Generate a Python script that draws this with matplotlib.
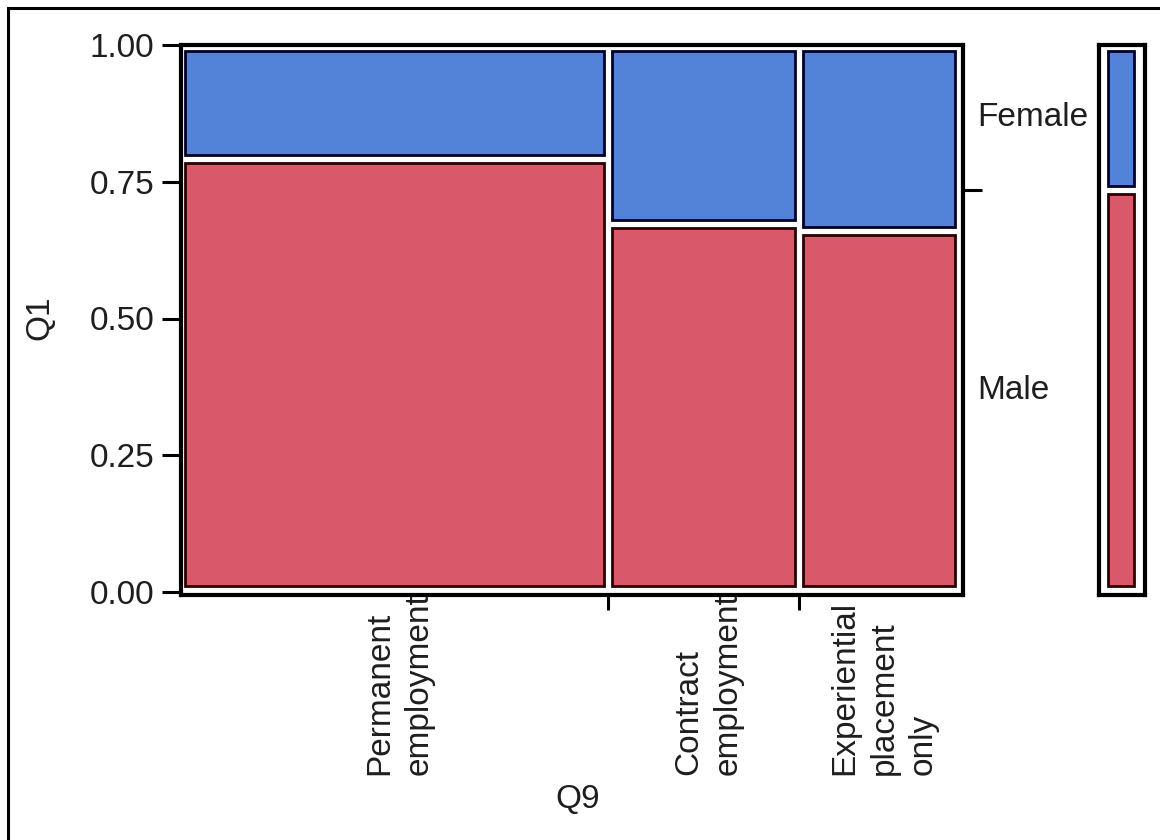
import matplotlib
matplotlib.use("Agg")
import matplotlib.pyplot as plt
from matplotlib.patches import Rectangle
from matplotlib.transforms import blended_transform_factory

# ---- data ----
categories = ["Permanent\nemployment", "Contract\nemployment", "Experiential\nplacement\nonly"]
col_share = [0.549, 0.2455, 0.2055]    # share of Q9 responses (column widths)
male_share = [0.792, 0.672, 0.660]     # share of Male within each Q9 category
groups = ["Male", "Female"]
y_ticks = [0.00, 0.25, 0.50, 0.75, 1.00]
y_ticklabels = ["0.00", "0.25", "0.50", "0.75", "1.00"]

MALE_C = "#d9596b"
FEMALE_C = "#5283d8"
MALE_E = "#2a0000"
FEMALE_E = "#00002a"
TXT = "#1e1e1e"

plt.rcParams["font.family"] = ["Liberation Sans", "DejaVu Sans"]
FS = 24

W, H = 1160, 840
fig = plt.figure(figsize=(W / 100, H / 100), dpi=100)

def fx(px):
    return px / W

def fy(py):
    return 1 - py / H

# main axes: frame x 181..963, y 45..595
ax = fig.add_axes([fx(181), fy(595), fx(963) - fx(181), fy(45) - fy(595)])
ax.set_xlim(0, 1 + 4 / 778)
ax.set_ylim(-3 / 547, 1.0)

gx = 4 / 778          # half gap between columns (data units)
gin = 4 / 547         # half gap between stacked cells
gout = 6 / 547        # inset at the top and bottom
left = 0.0
overall_male = 0.0
centers = []
for w, m in zip(col_share, male_share):
    ax.add_patch(Rectangle((left + gx, gout), w - 2 * gx, m - gout - gin,
                           facecolor=MALE_C, edgecolor=MALE_E, linewidth=2))
    ax.add_patch(Rectangle((left + gx, m + gin), w - 2 * gx, 1 - m - gin - gout,
                           facecolor=FEMALE_C, edgecolor=FEMALE_E, linewidth=2))
    centers.append(left + w / 2)
    overall_male += w * m
    left += w

for s in ax.spines.values():
    s.set_linewidth(3)
    s.set_color("black")

ax.set_yticks(y_ticks)
ax.set_yticklabels(y_ticklabels, fontsize=FS, color=TXT)
ax.tick_params(axis="y", length=14, width=2.2, pad=5)

bounds = [sum(col_share[:i + 1]) for i in range(len(col_share) - 1)]
ax.set_xticks(bounds)
ax.set_xticklabels([""] * len(bounds))
ax.tick_params(axis="x", length=11, width=2.2)

# category labels (rotated, aligned at their start)
tr = blended_transform_factory(ax.transData, fig.transFigure)
for c, lab in zip(centers, categories):
    ax.text(c + 5 / 778, fy(775), lab, rotation=90, ha="center", va="bottom",
            multialignment="left", fontsize=FS, linespacing=1.35,
            color=TXT, transform=tr, clip_on=False)

# right-side tick and group labels
ax2 = ax.twinx()
ax2.set_ylim(ax.get_ylim())
ax2.set_yticks([overall_male])
ax2.set_yticklabels([""])
ax2.tick_params(axis="y", length=14, width=2.2)
for s in ax2.spines.values():
    s.set_visible(False)
tr2 = blended_transform_factory(ax.transAxes, ax.transData)
ax.text(1 + 14 / 782, overall_male / 2, groups[0], fontsize=FS, ha="left",
        va="center", color=TXT, transform=tr2)
ax.text(1 + 14 / 782, (1 + overall_male) / 2, groups[1], fontsize=FS, ha="left",
        va="center", color=TXT, transform=tr2)

# axis titles
fig.text(fx(40), fy(318), "Q1", rotation=90, ha="center", va="center",
         fontsize=FS, color=TXT)
fig.text(fx(578), fy(800), "Q9", ha="center", va="center",
         fontsize=FS, color=TXT)

# overall (marginal) bar on the right
axl = fig.add_axes([fx(1099), fy(595), fx(1145) - fx(1099), fy(45) - fy(595)])
axl.set_xlim(0, 1)
axl.set_ylim(ax.get_ylim())
axl.add_patch(Rectangle((0.2, gout), 0.55, overall_male - gout - gin,
                        facecolor=MALE_C, edgecolor=MALE_E, linewidth=2))
axl.add_patch(Rectangle((0.2, overall_male + gin), 0.55, 1 - overall_male - gin - gout,
                        facecolor=FEMALE_C, edgecolor=FEMALE_E, linewidth=2))
axl.set_xticks([])
axl.set_yticks([])
for s in axl.spines.values():
    s.set_linewidth(3)

# outer figure border (right/bottom edges fall outside the image)
fig.patches.append(Rectangle((fx(8), -0.05), 1.2, fy(8) + 0.05, transform=fig.transFigure,
                             fill=False, edgecolor="black", linewidth=2.2))

fig.savefig("out.png", dpi=100)
